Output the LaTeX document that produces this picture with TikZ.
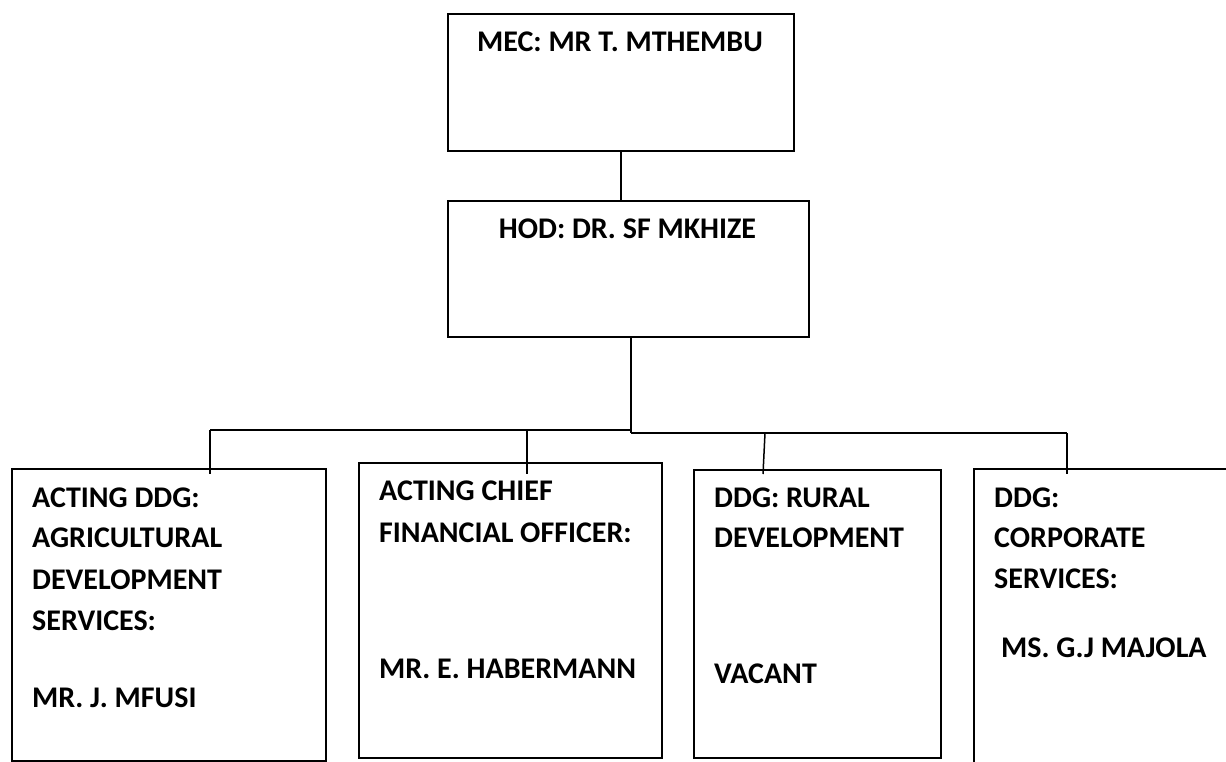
\documentclass[tikz,border=0pt]{standalone}
\usepackage{fontspec}
\setmainfont{Carlito}
\begin{document}
\begin{tikzpicture}[x=1pt,y=-1pt,
  box/.style={draw=black,line width=1.6pt,minimum width=#1,inner sep=0pt,anchor=north west},
  lbl/.style={anchor=base west,inner sep=0pt,font=\fontsize{30}{40}\selectfont\bfseries},
  ctr/.style={anchor=base,inner sep=0pt,font=\fontsize{30}{40}\selectfont\bfseries},
  conn/.style={line width=1.5pt}]
\useasboundingbox (0,0) rectangle (1226,762);
\clip (0,0) rectangle (1226,762);
% boxes
\node[box=346pt,minimum height=137pt] (mec) at (447,13) {};
\node[box=361pt,minimum height=136pt] (hod) at (447,200) {};
\node[box=314pt,minimum height=292pt] (b1) at (11,468) {};
\node[box=303pt,minimum height=295pt] (b2) at (358,462) {};
\node[box=247pt,minimum height=288pt] (b3) at (693,469) {};
\node[box=280pt,minimum height=320pt] (b4) at (973,468) {};
% texts
\node[ctr] (tmec) at (620,52) {MEC: MR T. MTHEMBU};
\node[ctr] (thod) at (627.5,239) {HOD: DR. SF MKHIZE};
\node[lbl] (t1a) at (32,507) {ACTING DDG:};
\node[lbl] (t1b) at (32,547) {AGRICULTURAL};
\node[lbl] (t1c) at (32,589) {DEVELOPMENT};
\node[lbl] (t1d) at (32,630) {SERVICES:};
\node[lbl] (t1e) at (32,707) {MR. J. MFUSI};
\node[lbl] (t2a) at (379,500) {ACTING CHIEF};
\node[lbl] (t2b) at (379,542) {FINANCIAL OFFICER:};
\node[lbl] (t2c) at (379,678) {MR. E. HABERMANN};
\node[lbl] (t3a) at (714,507) {DDG: RURAL};
\node[lbl] (t3b) at (714,547) {DEVELOPMENT};
\node[lbl] (t3c) at (714,683) {VACANT};
\node[lbl] (t4a) at (994,507) {DDG:};
\node[lbl] (t4b) at (994,547) {CORPORATE};
\node[lbl] (t4c) at (994,588) {SERVICES:};
\node[lbl] (t4d) at (1001,657) {MS. G.J MAJOLA};
% junction coordinates
\coordinate (j) at (631,433);
\coordinate (jl) at (631,430);
\coordinate (h1) at (210,430);
\coordinate (h2) at (527,431);
\coordinate (h3) at (765,433);
\coordinate (h4) at (1067,433);
% connectors
\draw[conn] (mec.south) -- (mec.south |- hod.north);
\draw[conn] (j |- hod.south) -- (j);
\draw[conn] (h1) -- (jl);
\draw[conn] (j) -- (h4);
\draw[conn] (h1) -- (h1 |- 0,474);
\draw[conn] (h2) -- (h2 |- 0,474);
\draw[conn] (h3) -- (763,474);
\draw[conn] (h4) -- (h4 |- 0,474);
\end{tikzpicture}
\end{document}
